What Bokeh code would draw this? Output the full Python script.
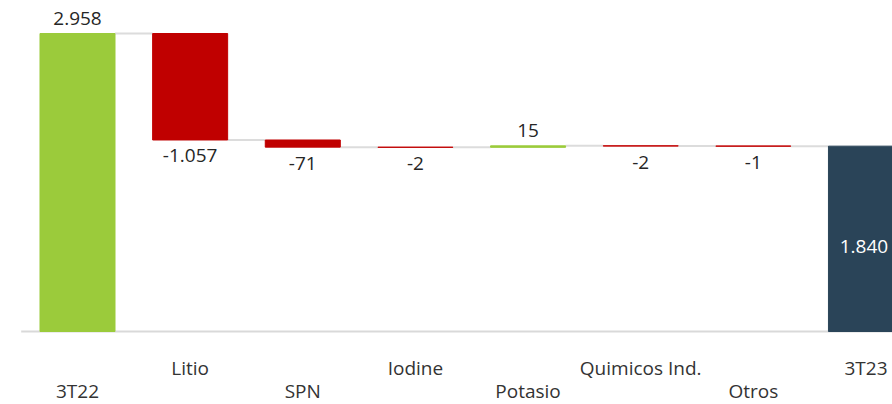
from bokeh.plotting import figure
from bokeh.models import ColumnDataSource, Range1d
from bokeh.core.properties import value
from bokeh.embed import file_html
from bokeh.resources import INLINE

categories = ["3T22", "Litio", "SPN", "Iodine", "Potasio", "Quimicos Ind.", "Otros", "3T23"]
values = [2958, -1057, -71, -2, 15, -2, -1, 1840]
kinds = ["total", "delta", "delta", "delta", "delta", "delta", "delta", "total"]

GREEN = "#9BCB3B"
RED = "#C00000"
DARK = "#2A4458"
FONT = "Open Sans"

def fmt(v):
    s = f"{abs(v):,}".replace(",", ".")
    return ("-" if v < 0 else "") + s

xs = list(range(len(categories)))
bottoms, tops, colors = [], [], []
running = 0
for i, (v, k) in enumerate(zip(values, kinds)):
    if k == "total":
        b, t = 0, v
        running = v
        colors.append(GREEN if i == 0 else DARK)
    else:
        b, t = running, running + v
        running = running + v
        colors.append(GREEN if v > 0 else RED)
    bottoms.append(min(b, t))
    tops.append(max(b, t))

p = figure(width=892, height=404, output_backend="svg", toolbar_location=None,
           x_range=Range1d(-0.6836, 7.2355), y_range=Range1d(-724.6, 3285.7),
           min_border=0, min_border_left=0, min_border_right=0,
           min_border_top=0, min_border_bottom=0)
p.axis.visible = False
p.grid.visible = False
p.outline_line_color = None
p.background_fill_color = "white"

# baseline
p.segment(x0=[-0.5], y0=[0], x1=[7.3], y1=[0], line_color="#D9D9D9", line_width=2)

# connectors
cx0, cx1, cy = [], [], []
level = 0
for i, (v, k) in enumerate(zip(values, kinds)):
    level = v if k == "total" else level + v
    if i < len(values) - 1:
        cx0.append(i + 0.333)
        cx1.append(i + 1 - 0.333)
        cy.append(level)
p.segment(x0=cx0, y0=cy, x1=cx1, y1=cy, line_color="#DCDCDC", line_width=2)

src = ColumnDataSource(dict(x=xs, bottom=bottoms, top=tops, color=colors))
p.vbar(x="x", bottom="bottom", top="top", width=0.666, fill_color="color",
       line_color="color", line_width=1, source=src)

# value labels
above_x, above_y, above_t = [], [], []
below_x, below_y, below_t = [], [], []
in_x, in_y, in_t = [], [], []
for i, (v, k) in enumerate(zip(values, kinds)):
    if k == "total" and i == len(values) - 1:
        in_x.append(i); in_y.append(tops[i] / 2); in_t.append(fmt(v))
    elif v > 0:
        above_x.append(i); above_y.append(tops[i]); above_t.append(fmt(v))
    else:
        below_x.append(i); below_y.append(bottoms[i]); below_t.append(fmt(v))

p.text(x=above_x, y=above_y, text=above_t, text_align="center", text_baseline="middle",
       y_offset=-15, text_font=value(FONT), text_font_size="19px", text_color="#262626")
p.text(x=below_x, y=below_y, text=below_t, text_align="center", text_baseline="middle",
       y_offset=16, text_font=value(FONT), text_font_size="19px", text_color="#262626")
p.text(x=in_x, y=in_y, text=in_t, text_align="center", text_baseline="middle",
       y_offset=8, x_offset=-2, text_font=value(FONT), text_font_size="19px", text_color="white")

# category labels, alternating rows
r1 = [i for i in xs if i % 2 == 1]
r2 = [i for i in xs if i % 2 == 0]
p.text(x=r1, y=[0] * len(r1), text=[categories[i] for i in r1], text_align="center",
       text_baseline="middle", y_offset=36, text_font=value(FONT), text_font_size="19px",
       text_color="#333333")
p.text(x=r2, y=[0] * len(r2), text=[categories[i] for i in r2], text_align="center",
       text_baseline="middle", y_offset=59, text_font=value(FONT), text_font_size="19px",
       text_color="#333333")

open("out.html", "w").write(file_html(p, INLINE))
